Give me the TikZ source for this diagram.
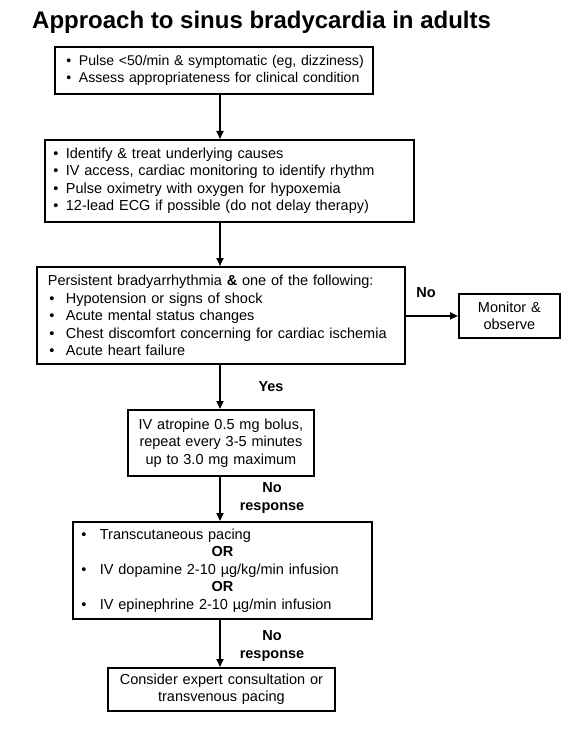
\documentclass[tikz,border=0pt]{standalone}
\usepackage{fontspec}
\setmainfont{Liberation Sans}
\usetikzlibrary{arrows.meta}
\newcommand{\bl}[1]{\makebox[#1][l]{•}}
\begin{document}
\begin{tikzpicture}[x=1pt,y=-1pt,
  box/.style={draw, line width=1.8pt, anchor=north west, inner ysep=0pt,
    font=\fontsize{14.5}{17.5}\selectfont},
  arr/.style={line width=1.8pt, -{Triangle[length=8pt,width=7pt]}},
  lbl/.style={font=\fontsize{14.5}{17.5}\selectfont\bfseries, align=center, inner sep=0pt}]
\useasboundingbox[fill=white] (0,0) rectangle (568,735);
\node[anchor=base west, inner sep=0pt, font=\fontsize{24}{28}\selectfont\bfseries] (title) at (32,29) {Approach to sinus bradycardia in adults};

\node[box, inner xsep=11.5pt, text width=295pt, minimum height=47pt, align=left,
  font=\fontsize{14.1}{17.5}\selectfont] (b1) at (54,46)
 {\mbox{\bl{12.5pt}Pulse <50/min \& symptomatic (eg, dizziness)}\\
  \mbox{\bl{12.5pt}Assess appropriateness for clinical condition}};

\node[box, inner xsep=8.5pt, text width=352pt, minimum height=82pt, align=left] (b2) at (44,139)
 {\mbox{\bl{12.5pt}Identify \& treat underlying causes}\\
  \mbox{\bl{12.5pt}IV access, cardiac monitoring to identify rhythm}\\
  \mbox{\bl{12.5pt}Pulse oximetry with oxygen for hypoxemia}\\
  \mbox{\bl{12.5pt}12-lead ECG if possible (do not delay therapy)}};

\node[box, inner xsep=11pt, text width=346pt, minimum height=97pt, align=left] (b3) at (36,266)
 {\mbox{Persistent bradyarrhythmia \textbf{\&} one of the following:}\\
  \mbox{\hspace*{1.5pt}\bl{16.5pt}Hypotension or signs of shock}\\
  \mbox{\hspace*{1.5pt}\bl{16.5pt}Acute mental status changes}\\
  \mbox{\hspace*{1.5pt}\bl{16.5pt}Chest discomfort concerning for cardiac ischemia}\\
  \mbox{\hspace*{1.5pt}\bl{16.5pt}Acute heart failure}};

\node[box, inner xsep=3pt, text width=95pt, minimum height=44pt, align=center] (mon) at (458,293)
 {Monitor \&\\observe};

\node[box, inner xsep=5pt, text width=176pt, minimum height=66pt, align=center] (b4) at (127,409)
 {IV atropine 0.5 mg bolus,\\repeat every 3-5 minutes\\up to 3.0 mg maximum};

\node[box, inner xsep=8.5pt, text width=282pt, minimum height=97pt, align=left] (b5) at (72,521)
 {\mbox{\bl{18.5pt}Transcutaneous pacing}\\
  \makebox[282pt]{\textbf{OR}}\\
  \mbox{\bl{18.5pt}IV dopamine 2-10 µg/kg/min infusion}\\
  \makebox[282pt]{\textbf{OR}}\\
  \mbox{\bl{18.5pt}IV epinephrine 2-10 µg/min infusion}};

\node[box, inner xsep=5pt, text width=217pt, minimum height=43pt, align=center] (b6) at (107,667)
 {Consider expert consultation or\\transvenous pacing};

\coordinate (ax) at (220,0);
\draw[arr] (b1.south -| ax) -- (b2.north -| ax);
\draw[arr] (b2.south -| ax) -- (b3.north -| ax);
\draw[arr] (b3.south -| ax) -- (b4.north -| ax);
\draw[arr] (b4.south -| ax) -- (b5.north -| ax);
\draw[arr] (b5.south -| ax) -- (b6.north -| ax);
\draw[arr] (mon.west -| b3.east) -- (mon.west);

\node[lbl] (no) at (426,293) {No};
\node[lbl] (yes) at (271,387) {Yes};
\node[lbl] (nr1) at (272,498) {No\\response};
\node[lbl] (nr2) at (272,646) {No\\response};
\end{tikzpicture}
\end{document}
